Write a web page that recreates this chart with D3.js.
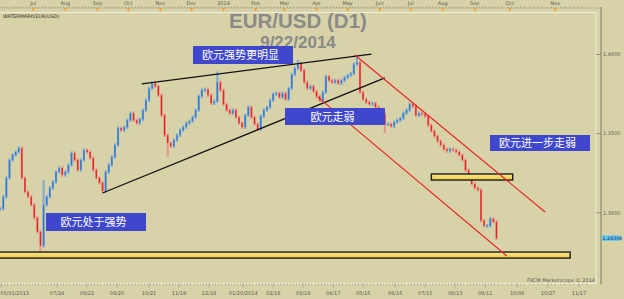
<!DOCTYPE html>
<html lang="zh">
<head>
<meta charset="UTF-8">
<title>EUR/USD (D1)</title>
<script src="https://d3js.org/d3.v7.min.js"></script>
<style>
    body { margin: 0; background: #d8d2a8; }
    svg { display: block; }
</style>
</head>
<body>
<script>

    //________________________________________________
    // Data
    //________________________________________________
    var firstBar = '2013-05-30';   // one candle every 3 calendar days
    var barStep = 3;
    var closes = [
        1.3025, 1.3101, 1.3220, 1.3333, 1.3365, 1.3384, 1.3409, 1.3220, 1.3132, 1.3101,
        1.3050, 1.2968, 1.2880, 1.2792, 1.3050, 1.3101, 1.3157, 1.3195, 1.3258, 1.3283,
        1.3239, 1.3258, 1.3302, 1.3377, 1.3333, 1.3270, 1.3333, 1.3396, 1.3384, 1.3346,
        1.3270, 1.3220, 1.3189, 1.3138, 1.3258, 1.3302, 1.3352, 1.3428, 1.3535, 1.3522,
        1.3541, 1.3585, 1.3629, 1.3585, 1.3566, 1.3591, 1.3648, 1.3711, 1.3786, 1.3818,
        1.3799, 1.3742, 1.3616, 1.3490, 1.3440, 1.3421, 1.3459, 1.3490, 1.3522, 1.3541,
        1.3566, 1.3579, 1.3604, 1.3648, 1.3736, 1.3774, 1.3780, 1.3742, 1.3692, 1.3705,
        1.3824, 1.3774, 1.3685, 1.3648, 1.3629, 1.3648, 1.3604, 1.3566, 1.3541, 1.3616,
        1.3667, 1.3604, 1.3560, 1.3528, 1.3610, 1.3648, 1.3667, 1.3711, 1.3749, 1.3755,
        1.3730, 1.3755, 1.3717, 1.3786, 1.3874, 1.3912, 1.3943, 1.3899, 1.3824, 1.3786,
        1.3799, 1.3767, 1.3736, 1.3711, 1.3761, 1.3861, 1.3836, 1.3824, 1.3836, 1.3818,
        1.3836, 1.3855, 1.3868, 1.3880, 1.3937, 1.3950, 1.3761, 1.3717, 1.3698, 1.3686,
        1.3692, 1.3667, 1.3648, 1.3623, 1.3560, 1.3560, 1.3547, 1.3572, 1.3585, 1.3597,
        1.3629, 1.3648, 1.3686, 1.3673, 1.3616, 1.3629, 1.3623, 1.3610, 1.3553, 1.3516,
        1.3484, 1.3453, 1.3428, 1.3402, 1.3390, 1.3402, 1.3396, 1.3384, 1.3365, 1.3333,
        1.3270, 1.3214, 1.3182, 1.3157, 1.3145, 1.2950, 1.2918, 1.2918, 1.2962, 1.2943,
        1.28398
    ];
    // notable wicks: [bar index, high, low]
    var extremes = [
        [13, null, 1.2755], [14, 1.3207, null], [54, null, 1.3353], [70, 1.3893, null],
        [96, 1.3967, null], [115, 1.3993, null], [124, null, 1.3503]
    ];
    var lastPrice = 1.28398;
    var priceTicks = [1.3000, 1.3500, 1.4000];
    var dateTicks = ['2013-05-31', '2013-07-24', '2013-08-22', '2013-09-20', '2013-10-21', '2013-11-19',
        '2013-12-18', '2014-01-20', '2014-02-18', '2014-03-19', '2014-04-17', '2014-05-16', '2014-06-16',
        '2014-07-15', '2014-08-13', '2014-09-11', '2014-10-06', '2014-10-27', '2014-11-17'];
    var dateLabels = ['05/31/2013', '07/24', '08/22', '09/20', '10/21', '11/19', '12/18', '01/20/2014',
        '02/18', '03/19', '04/17', '05/16', '06/16', '07/15', '08/13', '09/11', '10/06', '10/27', '11/17'];

    // drawn annotations, in date / price
    var blackLines = [
        [['2013-10-14', 1.3814], ['2014-05-24', 1.4003]],
        [['2013-09-06', 1.3125], ['2014-06-06', 1.3852]]
    ];
    var redLines = [
        [['2014-05-08', 1.3997], ['2014-10-25', 1.3005]],
        [['2014-04-02', 1.3732], ['2014-09-29', 1.2727]]
    ];
    var zones = [
        ['2013-05-29', '2014-11-11', 1.2714, 1.2752],
        ['2014-07-21', '2014-10-03', 1.3207, 1.3245]
    ];
    var notes = ['欧元强势更明显', '欧元走弱', '欧元进一步走弱', '欧元处于强势'];

    //________________________________________________
    // Layout
    //________________________________________________
    var W = 624, H = 299;
    var plotR = 596, axisX = 601, plotTop = 12.5, plotBottom = 283.5;
    var noteBoxes = [
        {x: 193, y: 46, w: 100, h: 18},
        {x: 285, y: 108, w: 100, h: 17},
        {x: 490, y: 135, w: 100, h: 16},
        {x: 46, y: 213, w: 100, h: 18}
    ];
    var small = '5px "DejaVu Sans", sans-serif';

    var parse = d3.timeParse('%Y-%m-%d');

    var x = d3.scaleTime()
            .domain([parse('2013-05-31'), parse('2014-09-22'), parse('2014-11-17')])
            .range([1.2, 496.5, 579]);
    var y = d3.scaleLinear().domain([1.3, 1.4]).range([212.8, 54.5]);

    var svg = d3.select('body').append('svg').attr('width', W).attr('height', H);
    svg.append('rect').attr('width', W).attr('height', H).attr('fill', '#d8d2a8');

    var defs = svg.append('defs');
    var grad = defs.append('linearGradient').attr('id', 'gold').attr('x1', 0).attr('y1', 0).attr('x2', 0).attr('y2', 1);
    grad.append('stop').attr('offset', '0%').attr('stop-color', '#fbeb95');
    grad.append('stop').attr('offset', '100%').attr('stop-color', '#ecc743');

    // frame
    svg.append('path')
            .attr('d', 'M0,' + plotTop + 'H' + plotR + 'V' + plotBottom + 'H0')
            .attr('fill', 'none').attr('stroke', '#eeeedd').attr('stroke-width', 1);
    svg.append('line').attr('x1', axisX).attr('x2', axisX).attr('y1', 7).attr('y2', plotBottom + 1)
            .attr('stroke', '#807a62').attr('stroke-width', 1);

    //________________________________________________
    // Top month ruler
    //________________________________________________
    var rulerEnd = parse('2014-11-24');
    svg.append('line').attr('x1', 0).attr('x2', axisX).attr('y1', 8).attr('y2', 8)
            .attr('stroke', '#a8a38a').attr('stroke-width', 0.6);
    svg.append('g').selectAll('line')
            .data(d3.timeDay.range(parse('2013-05-31'), rulerEnd, 3))
            .enter().append('line')
            .attr('x1', function (d) { return Math.round(x(d)) + 0.5; })
            .attr('x2', function (d) { return Math.round(x(d)) + 0.5; })
            .attr('y1', 6.5).attr('y2', 8)
            .attr('stroke', '#9a957c').attr('stroke-width', 0.6);
    var months = d3.timeMonth.range(parse('2013-07-01'), parse('2014-11-02'));
    var monthMark = svg.append('g').selectAll('g').data(months).enter().append('g')
            .attr('transform', function (d) { return 'translate(' + x(d) + ',0)'; });
    monthMark.append('path').attr('d', 'M-1.6,8L1.6,8L0,12Z').attr('fill', '#f0a030');
    monthMark.append('text').attr('y', 5).attr('text-anchor', 'middle')
            .style('font', small).attr('fill', '#5a5a50')
            .text(function (d) { return d.getMonth() === 0 ? d3.timeFormat('%Y')(d) : d3.timeFormat('%b')(d); });

    //________________________________________________
    // Bottom date axis
    //________________________________________________
    svg.append('g').selectAll('line')
            .data(d3.timeDay.range(parse('2013-05-31'), rulerEnd, 3))
            .enter().append('line')
            .attr('x1', function (d) { return Math.round(x(d)) + 0.5; })
            .attr('x2', function (d) { return Math.round(x(d)) + 0.5; })
            .attr('y1', plotBottom).attr('y2', plotBottom + 1.8)
            .attr('stroke', '#9a957c').attr('stroke-width', 0.6);
    var dateMark = svg.append('g').selectAll('g').data(dateTicks).enter().append('g')
            .attr('transform', function (d) { return 'translate(' + x(parse(d)) + ',0)'; });
    dateMark.append('line').attr('y1', plotBottom).attr('y2', plotBottom + 4)
            .attr('stroke', '#9a957c').attr('stroke-width', 0.6);
    dateMark.append('text').attr('y', 295)
            .attr('text-anchor', function (d, i) { return i === 0 ? 'start' : 'middle'; })
            .attr('x', function (d, i) { return i === 0 ? -1 : 0; })
            .style('font', small).attr('fill', '#5a5a50')
            .text(function (d, i) { return dateLabels[i]; });

    //________________________________________________
    // Price axis
    //________________________________________________
    var priceMark = svg.append('g').selectAll('g').data(priceTicks).enter().append('g')
            .attr('transform', function (d) { return 'translate(0,' + y(d) + ')'; });
    priceMark.append('line').attr('x1', plotR).attr('x2', axisX).attr('stroke', '#807a62').attr('stroke-width', 0.7);
    priceMark.append('text').attr('x', 603).attr('y', 1.7).style('font', small).attr('fill', '#5a5a50')
            .text(function (d) { return d.toFixed(4); });

    svg.append('rect').attr('x', 601.5).attr('y', y(lastPrice) - 2.7).attr('width', 19.5).attr('height', 5.4)
            .attr('fill', '#62c6f2');
    svg.append('text').attr('x', 602.5).attr('y', y(lastPrice) + 1.7).style('font', '4.8px "DejaVu Sans", sans-serif')
            .attr('fill', '#1c2c5c').text(lastPrice.toFixed(5));

    //________________________________________________
    // Texts
    //________________________________________________
    svg.append('text').attr('x', 3).attr('y', 18).style('font', '4.8px "DejaVu Sans", sans-serif')
            .attr('fill', '#2a2a20').text('WATERMARK(EUR/USD)');
    svg.append('text').attr('x', 298).attr('y', 28).attr('text-anchor', 'middle')
            .style('font', 'bold 20.5px "Liberation Sans", Arial, sans-serif').attr('fill', '#8a8a88')
            .text('EUR/USD (D1)');
    svg.append('text').attr('x', 298).attr('y', 48).attr('text-anchor', 'middle')
            .style('font', 'bold 17px "Liberation Sans", Arial, sans-serif').attr('fill', '#8a8a88')
            .text('9/22/2014');
    svg.append('text').attr('x', 595).attr('y', 282).attr('text-anchor', 'end')
            .style('font', small).attr('fill', '#5a5a50').text('FXCM Marketscope \u00a9 2014');

    //________________________________________________
    // Candles
    //________________________________________________
    var firstDate = parse(firstBar);
    var bars = closes.map(function (c, i) {
        var o = i > 0 ? closes[i - 1] : c;
        var b = {date: d3.timeDay.offset(firstDate, i * barStep), o: o, c: c,
            h: Math.max(o, c) + 0.0011, l: Math.min(o, c) - 0.0011};
        extremes.forEach(function (e) {
            if (e[0] === i) {
                if (e[1] !== null) b.h = e[1];
                if (e[2] !== null) b.l = e[2];
            }
        });
        return b;
    });

    var candle = svg.append('g').selectAll('g').data(bars).enter().append('g')
            .attr('transform', function (d) { return 'translate(' + x(d.date) + ',0)'; });
    candle.append('rect')
            .attr('x', -1.1).attr('width', 2.2)
            .attr('y', function (d) { return y(d.h); })
            .attr('height', function (d) { return y(d.l) - y(d.h); })
            .attr('fill', function (d) { return d.c >= d.o ? '#86acd0' : '#e39a88'; });
    candle.append('rect')
            .attr('x', -0.7).attr('width', 1.4)
            .attr('y', function (d) { return y(Math.max(d.o, d.c)); })
            .attr('height', function (d) { return Math.max(1, Math.abs(y(d.o) - y(d.c))); })
            .attr('fill', function (d) { return d.c >= d.o ? '#2c78d4' : '#e8222a'; });

    //________________________________________________
    // Annotations
    //________________________________________________
    svg.append('g').selectAll('rect').data(zones).enter().append('rect')
            .attr('x', function (d) { return x(parse(d[0])); })
            .attr('width', function (d) { return x(parse(d[1])) - x(parse(d[0])); })
            .attr('y', function (d) { return y(d[3]); })
            .attr('height', function (d) { return y(d[2]) - y(d[3]); })
            .attr('fill', 'url(#gold)').attr('stroke', '#1e1e14').attr('stroke-width', 1.4);

    function drawLines(list, color, width) {
        svg.append('g').selectAll('line').data(list).enter().append('line')
                .attr('x1', function (d) { return x(parse(d[0][0])); })
                .attr('y1', function (d) { return y(d[0][1]); })
                .attr('x2', function (d) { return x(parse(d[1][0])); })
                .attr('y2', function (d) { return y(d[1][1]); })
                .attr('stroke', color).attr('stroke-width', width);
    }
    drawLines(blackLines, '#111', 1.3);
    drawLines(redLines, '#ee1c24', 1.1);

    var note = svg.append('g').selectAll('g').data(notes).enter().append('g')
            .attr('transform', function (d, i) { return 'translate(' + noteBoxes[i].x + ',' + noteBoxes[i].y + ')'; });
    note.append('rect')
            .attr('width', function (d, i) { return noteBoxes[i].w; })
            .attr('height', function (d, i) { return noteBoxes[i].h; })
            .attr('fill', '#3f48cc');
    note.append('text')
            .attr('x', function (d, i) { return noteBoxes[i].w / 2 - 2.5; })
            .attr('y', function (d, i) { return noteBoxes[i].h / 2 + 4; })
            .attr('text-anchor', 'middle')
            .style('font', '11px "Noto Sans CJK SC", sans-serif').attr('fill', '#fff')
            .text(function (d) { return d; });

</script>
</body>
</html>
